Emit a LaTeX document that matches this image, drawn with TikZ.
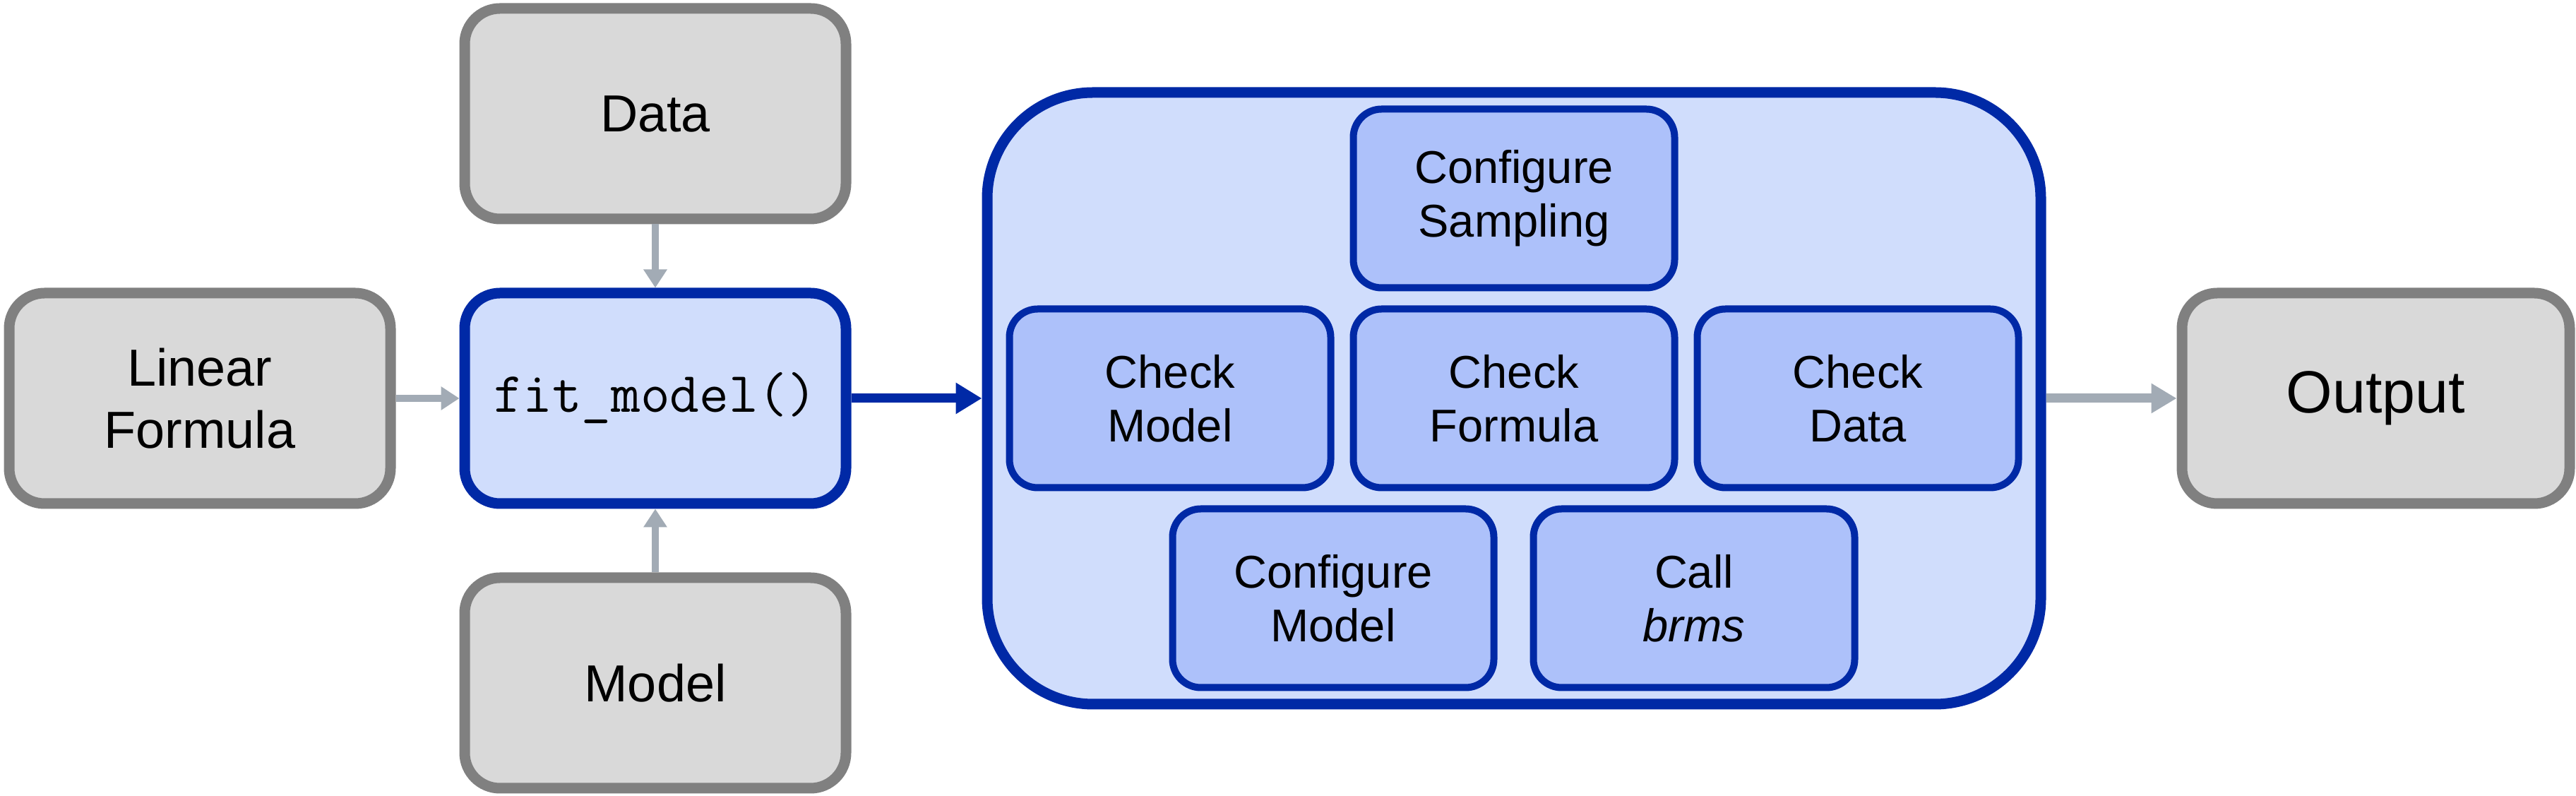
\documentclass[tikz,border=0pt]{standalone}
\usepackage{fontspec}
\setmainfont{Liberation Sans}
\usetikzlibrary{positioning,arrows.meta}
\definecolor{boxgray}{HTML}{D9D9D9}
\definecolor{linegray}{HTML}{808080}
\definecolor{arrgray}{HTML}{A2ABB5}
\definecolor{fnblue}{HTML}{0029A6}
\definecolor{paleblue}{HTML}{D0DDFC}
\definecolor{midblue}{HTML}{ADC1FA}
\tikzset{
  box/.style  ={rounded corners=5mm, line width=1.5mm, align=center,
                minimum width=54mm, minimum height=29.8mm,
                font=\fontsize{21}{25}\selectfont},
  inp/.style  ={box, fill=boxgray, draw=linegray},
  fn/.style   ={box, fill=paleblue, draw=fnblue,
                font=\fontsize{23}{27}\selectfont\ttfamily},
  pipe/.style ={rounded corners=15mm, line width=1.5mm, fill=paleblue, draw=fnblue,
                minimum width=149.2mm, minimum height=86.6mm},
  sub/.style  ={rounded corners=4mm, line width=1mm, fill=midblue, draw=fnblue,
                align=center, minimum width=45.5mm, minimum height=25.3mm,
                font=\fontsize{18.5}{21.6}\selectfont},
  fl/.style   ={-{Triangle[length=2.6mm,width=3.2mm]}, line width=1mm, draw=arrgray},
  flb/.style  ={-{Triangle[length=3.7mm,width=4.2mm]}, line width=1.3mm, draw=fnblue},
  flo/.style  ={-{Triangle[length=3.6mm,width=4mm]}, line width=1.3mm, draw=arrgray},
}

\begin{document}
\begin{tikzpicture}[node distance=9mm]
  \useasboundingbox (0,0) rectangle (364.8mm,-112.7mm);

  % ---- inputs --------------------------------------------------------
  \node[inp] (lin) at (28.3mm,-56.4mm) {Linear\\Formula};
  \node[fn, right=of lin] (fit) {fit\_model()};
  \node[inp, above=of fit] (data) {Data};
  \node[inp, below=of fit] (model) {Model};

  % ---- what fit_model() does -----------------------------------------
  \node[pipe, right=18.5mm of fit] (pipe) {};
  \node[sub] (cform) at (pipe) {Check\\Formula};
  \node[sub, left=2.2mm of cform] (cmod) {Check\\Model};
  \node[sub, right=2.2mm of cform] (cdat) {Check\\Data};
  \node[sub, above=2mm of cform] (csamp) {Configure\\Sampling};
  \node[sub, below=2mm of cform, xshift=-25.6mm] (cfgmod) {Configure\\Model};
  \node[sub, below=2mm of cform, xshift=25.5mm] (call) {Call\\\textit{brms}};

  % ---- result --------------------------------------------------------
  \node[inp, right=18.5mm of pipe, minimum width=54.9mm,
        font=\fontsize{24}{28}\selectfont] (out) {Output};

  \draw[fl](lin)--(fit);
  \draw[fl](data)--(fit);
  \draw[fl](model)--(fit);
  \draw[flb](fit)--(pipe);
  \draw[flo](pipe)--(out);
\end{tikzpicture}
\end{document}
